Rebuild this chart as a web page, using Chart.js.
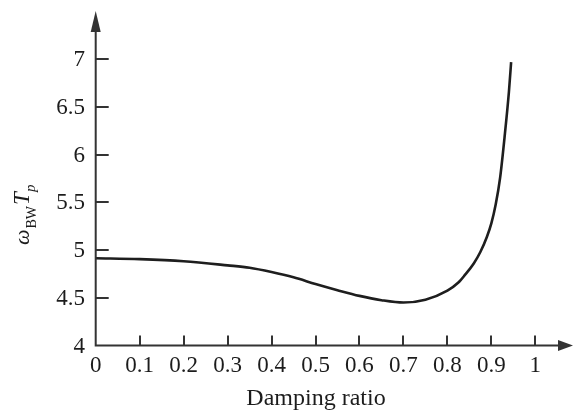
<!DOCTYPE html>
<html>
<head>
<meta charset="utf-8">
<script src="https://cdn.jsdelivr.net/npm/chart.js@4"></script>
<style>
  html, body { margin: 0; padding: 0; background: #fff; }
  #wrap { width: 573px; height: 418px; position: relative; }
</style>
</head>
<body>
<div id="wrap"><canvas id="c" width="573" height="418"></canvas></div>
<script>
// Data
const dampingRatio = [0, 0.1, 0.2, 0.3, 0.35, 0.4, 0.45, 0.5, 0.55, 0.6, 0.65, 0.7, 0.75, 0.8, 0.825, 0.84, 0.86, 0.875, 0.89, 0.9, 0.91, 0.92, 0.93, 0.94, 0.945];
const bwTp = [4.915, 4.905, 4.883, 4.84, 4.815, 4.77, 4.715, 4.645, 4.58, 4.52, 4.475, 4.45, 4.48, 4.575, 4.66, 4.74, 4.86, 4.98, 5.14, 5.28, 5.48, 5.76, 6.18, 6.66, 6.97];
const xTickValues = [0, 0.1, 0.2, 0.3, 0.4, 0.5, 0.6, 0.7, 0.8, 0.9, 1];
const xTickLabels = ['0', '0.1', '0.2', '0.3', '0.4', '0.5', '0.6', '0.7', '0.8', '0.9', '1'];
const yTickValues = [4, 4.5, 5, 5.5, 6, 6.5, 7];
const yTickLabels = ['4', '4.5', '5', '5.5', '6', '6.5', '7'];
const xTitle = 'Damping ratio';

const points = dampingRatio.map((z, i) => ({ x: z, y: bwTp[i] }));

const SERIF = '"Liberation Serif", "DejaVu Serif", serif';
const TEXT = '#1c1c1c';
const AXIS = '#333';

const axesPlugin = {
  id: 'axesPlugin',
  afterDraw(chart) {
    const ctx = chart.ctx;
    const xs = chart.scales.x, ys = chart.scales.y;
    const x0 = xs.getPixelForValue(0);
    const y0 = ys.getPixelForValue(4);
    ctx.save();
    // axis lines
    ctx.strokeStyle = AXIS;
    ctx.lineWidth = 2;
    ctx.beginPath();
    ctx.moveTo(x0, y0 + 1);
    ctx.lineTo(x0, 26);
    ctx.moveTo(x0 - 1, y0);
    ctx.lineTo(563, y0);
    ctx.stroke();
    // arrow heads
    ctx.fillStyle = AXIS;
    ctx.beginPath();
    ctx.moveTo(x0, 11);
    ctx.lineTo(x0 - 5, 32);
    ctx.lineTo(x0 + 5, 32);
    ctx.closePath();
    ctx.fill();
    ctx.beginPath();
    ctx.moveTo(573, y0);
    ctx.lineTo(558, y0 - 5.5);
    ctx.lineTo(558, y0 + 5.5);
    ctx.closePath();
    ctx.fill();
    // ticks
    ctx.lineWidth = 2;
    ctx.beginPath();
    xTickValues.forEach(v => {
      if (v === 0) return;
      const px = Math.round(xs.getPixelForValue(v));
      ctx.moveTo(px, y0);
      ctx.lineTo(px, y0 - 10);
    });
    yTickValues.forEach(v => {
      if (v === 4) return;
      const py = Math.round(ys.getPixelForValue(v));
      ctx.moveTo(x0, py);
      ctx.lineTo(x0 + 13, py);
    });
    ctx.stroke();
    // tick labels
    ctx.fillStyle = TEXT;
    ctx.font = '23px ' + SERIF;
    ctx.textAlign = 'center';
    ctx.textBaseline = 'middle';
    xTickValues.forEach((v, i) => {
      ctx.fillText(xTickLabels[i], xs.getPixelForValue(v), 366);
    });
    ctx.textAlign = 'right';
    yTickValues.forEach((v, i) => {
      ctx.fillText(yTickLabels[i], 85, ys.getPixelForValue(v) + 1);
    });
    // x title
    ctx.textAlign = 'center';
    ctx.font = '24px ' + SERIF;
    ctx.fillText(xTitle, 316, 399);
    // y title: ω_BW T_p (rotated)
    ctx.translate(29, 245);
    ctx.rotate(-Math.PI / 2);
    ctx.textAlign = 'left';
    ctx.textBaseline = 'alphabetic';
    let cx = 0;
    const part = (txt, font, dy, gap) => {
      ctx.font = font;
      ctx.fillText(txt, cx, dy);
      cx += ctx.measureText(txt).width + (gap || 0);
    };
    part('ω', 'italic 22px ' + SERIF, 0, 1);
    part('BW', '14px ' + SERIF, 7, 1);
    part('T', 'italic 23px ' + SERIF, 0, 0);
    part('p', 'italic 15px ' + SERIF, 6, 0);
    ctx.restore();
  }
};

new Chart(document.getElementById('c'), {
  type: 'line',
  data: {
    datasets: [{
      data: points,
      borderColor: '#1e1e1e',
      borderWidth: 2.6,
      pointRadius: 0,
      fill: false,
      cubicInterpolationMode: 'monotone',
      clip: false
    }]
  },
  options: {
    responsive: false,
    animation: false,
    devicePixelRatio: 1,
    layout: { padding: { left: 95.7, right: 37.7, top: 59.3, bottom: 72.5 } },
    plugins: { legend: { display: false }, tooltip: { enabled: false } },
    scales: {
      x: { type: 'linear', min: 0, max: 1, display: false },
      y: { type: 'linear', min: 4, max: 7, display: false }
    }
  },
  plugins: [axesPlugin]
});
</script>
</body>
</html>
